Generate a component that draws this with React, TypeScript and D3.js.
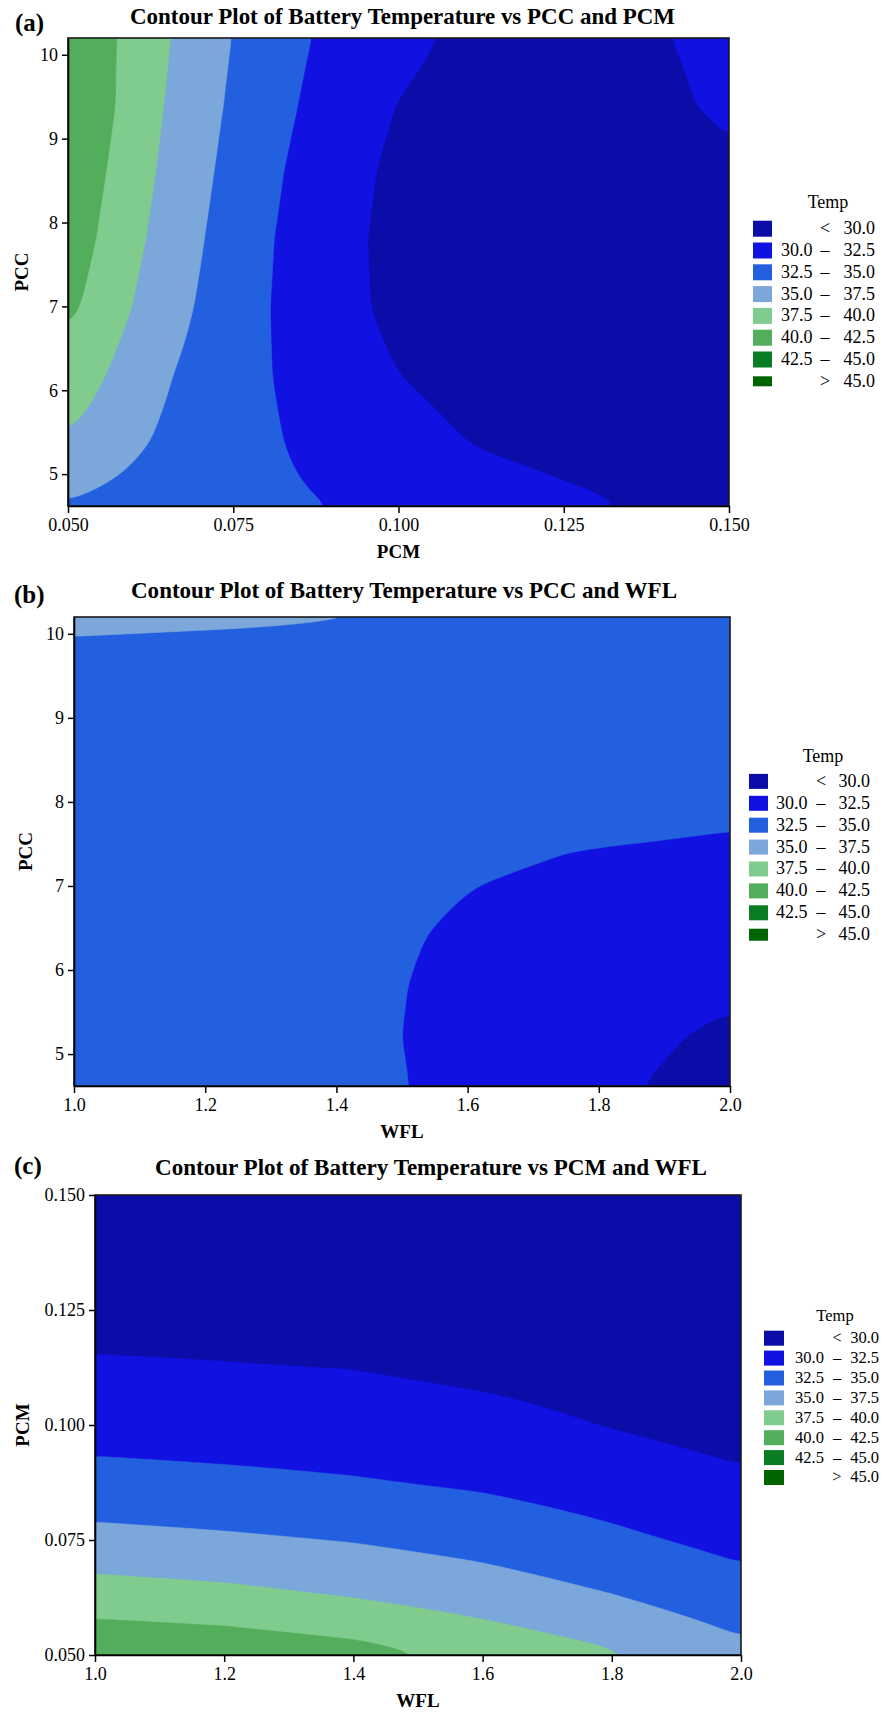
import React, { useEffect, useRef } from "react";
import * as d3 from "d3";

const SERIF = "'Liberation Serif', 'Times New Roman', Times, serif";

// temperature bands shared by all three plots
const tempBreaks = [30, 32.5, 35, 37.5, 40, 42.5, 45];
const bandColors = ["#0c0ca8", "#1111e1", "#2360e0", "#7ba7da", "#80cc8f", "#52ae5a", "#0a7d24", "#006400"];
const legendRows = [
  ["", "<", "30.0"],
  ["30.0", "–", "32.5"],
  ["32.5", "–", "35.0"],
  ["35.0", "–", "37.5"],
  ["37.5", "–", "40.0"],
  ["40.0", "–", "42.5"],
  ["42.5", "–", "45.0"],
  ["", ">", "45.0"],
];

// (a) Temp over PCM (columns) x PCC (rows, bottom -> top)
const pcmA = [0.05, 0.0625, 0.075, 0.0875, 0.1, 0.1125, 0.125, 0.1375, 0.15];
const pccA = [4.62, 5.4, 6.2, 7.0, 7.8, 8.6, 9.4, 10.2];
const tempA = [
  [34.75, 33.85, 33.2, 32.6, 31.9, 31.2, 30.5, 29.75, 29.3],
  [37.3, 34.96, 33.33, 31.97, 30.89, 29.8, 29.2, 29.0, 29.1],
  [39.1, 35.63, 33.34, 31.56, 29.99, 29.0, 28.7, 28.8, 29.2],
  [40.6, 36.59, 33.54, 31.22, 29.38, 28.6, 28.4, 28.6, 29.2],
  [41.4, 37.24, 33.79, 31.18, 29.3, 28.6, 28.4, 28.7, 29.4],
  [41.95, 37.7, 34.18, 31.43, 29.47, 28.7, 28.5, 28.9, 29.7],
  [42.6, 38.05, 34.58, 31.92, 29.9, 29.0, 28.8, 29.55, 30.3],
  [42.4, 38.33, 34.89, 32.35, 30.64, 29.25, 29.2, 29.8, 30.45],
];

// (b) Temp over WFL (columns) x PCC (rows)
const wflB = [1.0, 1.25, 1.5, 1.625, 1.75, 1.875, 2.0];
const pccB = [4.62, 5.2, 5.8, 6.4, 7.0, 7.6, 8.4, 9.2, 9.6, 10.2];
const tempB = [
  [34.0, 33.5, 32.58, 31.7, 30.8, 29.95, 29.3],
  [33.9, 33.45, 32.51, 31.8, 31.0, 30.3, 29.63],
  [33.8, 33.4, 32.55, 31.9, 31.25, 30.75, 30.4],
  [33.7, 33.4, 32.65, 32.15, 31.65, 31.25, 30.9],
  [33.6, 33.4, 32.85, 32.47, 32.15, 31.85, 31.6],
  [33.6, 33.5, 33.3, 33.0, 32.69, 32.6, 32.47],
  [33.7, 33.55, 33.45, 33.3, 33.2, 33.15, 33.1],
  [33.95, 33.8, 33.7, 33.6, 33.55, 33.5, 33.45],
  [34.2, 34.0, 33.9, 33.8, 33.75, 33.7, 33.7],
  [35.5, 35.3, 34.98, 34.75, 34.6, 34.5, 34.4],
];

// (c) Temp over WFL (columns) x PCM (rows)
const wflC = [1.0, 1.2, 1.4, 1.6, 1.8, 2.0];
const pcmC = [0.05, 0.0625, 0.075, 0.0875, 0.1, 0.1125, 0.125, 0.1375, 0.15];
const tempC = [
  [42.2, 41.8, 40.95, 39.3, 37.8, 35.7],
  [38.7, 38.24, 37.44, 36.41, 35.13, 33.53],
  [35.77, 35.37, 34.86, 34.08, 32.97, 31.8],
  [33.3, 33.0, 32.65, 32.16, 31.34, 30.39],
  [31.55, 31.4, 31.28, 30.74, 29.89, 29.1],
  [30.15, 30.05, 29.93, 29.46, 29.0, 28.4],
  [29.5, 29.5, 29.3, 28.9, 28.4, 27.9],
  [29.3, 29.2, 29.0, 28.6, 28.1, 27.7],
  [29.4, 29.2, 29.0, 28.6, 28.1, 27.7],
];

const pcmTicks = [0.05, 0.075, 0.1, 0.125, 0.15];
const pccTicks = [5, 6, 7, 8, 9, 10];
const wflTicks = [1.0, 1.2, 1.4, 1.6, 1.8, 2.0];

const NX = 240;
const NY = 240;

// bilinear fill of the fine grid used by d3.contours (row 0 = top)
function resample(xs: number[], ys: number[], z: number[][]): number[] {
  const out: number[] = new Array(NX * NY);
  const x0 = xs[0], x1 = xs[xs.length - 1];
  const y0 = ys[0], y1 = ys[ys.length - 1];
  for (let j = 0; j < NY; j++) {
    const yv = y1 - ((j + 0.5) / NY) * (y1 - y0);
    const r = Math.min(ys.length - 2, Math.max(0, d3.bisectRight(ys, yv) - 1));
    const ty = (yv - ys[r]) / (ys[r + 1] - ys[r]);
    for (let i = 0; i < NX; i++) {
      const xv = x0 + ((i + 0.5) / NX) * (x1 - x0);
      const c = Math.min(xs.length - 2, Math.max(0, d3.bisectRight(xs, xv) - 1));
      const tx = (xv - xs[c]) / (xs[c + 1] - xs[c]);
      const lo = z[r][c] * (1 - tx) + z[r][c + 1] * tx;
      const hi = z[r + 1][c] * (1 - tx) + z[r + 1][c + 1] * tx;
      out[j * NX + i] = lo * (1 - ty) + hi * ty;
    }
  }
  const blur2 = (d3 as any).blur2;
  if (blur2) blur2({ data: out, width: NX, height: NY }, 3);
  return out;
}

const panels = [
  {
    id: "a", tag: "(a)", tagX: 15, tagY: 31,
    title: "Contour Plot of Battery Temperature vs PCC and PCM",
    titleX: 402.5, titleY: 24, titleLen: 545,
    xLabel: "PCM", yLabel: "PCC", yLabelX: 28,
    xs: pcmA, ys: pccA, temps: tempA,
    xTicks: pcmTicks, yTicks: pccTicks, xFmt: d3.format(".3f"), yFmt: d3.format("d"),
    l: 68, r: 729, t: 38, b: 506,
    lg: { swX: 753, swW: 19, swH: 16, lastH: 10, y0: 228.7, dy: 21.8, numL: 781, dashX: 825, right: 875, fs: 18, tempX: 828, tempY: 208 },
  },
  {
    id: "b", tag: "(b)", tagX: 14, tagY: 603,
    title: "Contour Plot of Battery Temperature vs PCC and WFL",
    titleX: 404, titleY: 598, titleLen: 546,
    xLabel: "WFL", yLabel: "PCC", yLabelX: 32,
    xs: wflB, ys: pccB, temps: tempB,
    xTicks: wflTicks, yTicks: pccTicks, xFmt: d3.format(".1f"), yFmt: d3.format("d"),
    l: 74, r: 730, t: 617, b: 1086,
    lg: { swX: 749, swW: 19, swH: 15, lastH: 12, y0: 781.4, dy: 21.9, numL: 776, dashX: 821, right: 870, fs: 18, tempX: 823, tempY: 762 },
  },
  {
    id: "c", tag: "(c)", tagX: 14, tagY: 1174,
    title: "Contour Plot of Battery Temperature vs PCM and WFL",
    titleX: 431, titleY: 1175, titleLen: 552,
    xLabel: "WFL", yLabel: "PCM", yLabelX: 29,
    xs: wflC, ys: pcmC, temps: tempC,
    xTicks: wflTicks, yTicks: pcmTicks, xFmt: d3.format(".1f"), yFmt: d3.format(".3f"),
    l: 95, r: 741, t: 1195, b: 1655,
    lg: { swX: 764, swW: 20, swH: 15, lastH: 15, y0: 1338.2, dy: 19.9, numL: 795, dashX: 837, right: 879, fs: 16.5, tempX: 835, tempY: 1321 },
  },
];

const App: React.FC = () => {
  const svgRef = useRef<SVGSVGElement>(null);

  useEffect(() => {
    if (!svgRef.current) return;
    const svg = d3.select(svgRef.current);
    svg.selectAll("*").remove();

    panels.forEach(p => {
      const g = svg.append("g").attr("font-family", SERIF);
      const last = (a: number[]) => a[a.length - 1];

      const x = d3.scaleLinear().domain([p.xs[0], last(p.xs)]).range([p.l, p.r]);
      const y = d3.scaleLinear().domain([p.ys[0], last(p.ys)]).range([p.b, p.t]);

      g.append("clipPath")
        .attr("id", "clip-" + p.id)
        .append("rect")
        .attr("x", p.l).attr("y", p.t)
        .attr("width", p.r - p.l).attr("height", p.b - p.t);

      const plot = g.append("g").attr("clip-path", `url(#clip-${p.id})`);

      // lowest band as background
      plot.append("rect")
        .attr("x", p.l).attr("y", p.t)
        .attr("width", p.r - p.l).attr("height", p.b - p.t)
        .attr("fill", bandColors[0]);

      const grid = resample(p.xs, p.ys, p.temps);
      const bands = d3.contours().size([NX, NY]).thresholds(tempBreaks)(grid);

      const gx = d3.scaleLinear().domain([0, NX]).range([p.xs[0], last(p.xs)]);
      const gy = d3.scaleLinear().domain([0, NY]).range([last(p.ys), p.ys[0]]);
      const proj = d3.geoTransform({
        point: function (this: any, px: number, py: number) {
          this.stream.point(x(gx(px)), y(gy(py)));
        },
      });
      const path = d3.geoPath(proj);

      plot.selectAll("path.band")
        .data(bands)
        .join("path")
        .attr("class", "band")
        .attr("d", d => path(d as any) || "")
        .attr("fill", (d, i) => bandColors[i + 1])
        .attr("stroke", (d, i) => bandColors[i + 1])
        .attr("stroke-width", 0.6);

      // frame
      g.append("rect")
        .attr("x", p.l).attr("y", p.t)
        .attr("width", p.r - p.l).attr("height", p.b - p.t)
        .attr("fill", "none")
        .attr("stroke", "#1a1a1a")
        .attr("stroke-width", 1.6);

      // axes
      const xAxis = g.append("g")
        .attr("transform", `translate(0,${p.b})`)
        .call(
          d3.axisBottom(x)
            .tickValues(p.xTicks)
            .tickFormat(p.xFmt as any)
            .tickSize(7)
            .tickSizeOuter(0)
            .tickPadding(5)
        );
      const yAxis = g.append("g")
        .attr("transform", `translate(${p.l},0)`)
        .call(
          d3.axisLeft(y)
            .tickValues(p.yTicks)
            .tickFormat(p.yFmt as any)
            .tickSize(6)
            .tickSizeOuter(0)
            .tickPadding(4)
        );
      [xAxis, yAxis].forEach(ax => {
        ax.attr("font-family", SERIF).attr("font-size", 18);
        ax.select(".domain").attr("stroke", "#000").attr("stroke-width", 1.6);
        ax.selectAll(".tick line").attr("stroke", "#000").attr("stroke-width", 1.5);
        ax.selectAll(".tick text")
          .attr("fill", "#000")
          .attr("font-family", SERIF)
          .attr("font-size", 18);
      });

      // title + tag
      g.append("text")
        .attr("x", p.titleX)
        .attr("y", p.titleY)
        .attr("text-anchor", "middle")
        .attr("textLength", p.titleLen)
        .attr("lengthAdjust", "spacingAndGlyphs")
        .attr("font-family", SERIF)
        .attr("font-size", 24)
        .attr("font-weight", "bold")
        .text(p.title);

      g.append("text")
        .attr("x", p.tagX)
        .attr("y", p.tagY)
        .attr("font-family", SERIF)
        .attr("font-size", 25)
        .attr("font-weight", "bold")
        .text(p.tag);

      // axis titles
      g.append("text")
        .attr("x", (p.l + p.r) / 2)
        .attr("y", p.b + 52)
        .attr("text-anchor", "middle")
        .attr("font-family", SERIF)
        .attr("font-size", 19)
        .attr("font-weight", "bold")
        .text(p.xLabel);

      g.append("text")
        .attr("transform", `translate(${p.yLabelX},${(p.t + p.b) / 2}) rotate(-90)`)
        .attr("text-anchor", "middle")
        .attr("font-family", SERIF)
        .attr("font-size", 19)
        .attr("font-weight", "bold")
        .text(p.yLabel);

      // legend
      const lg = p.lg;
      const leg = g.append("g");
      const txt = (xx: number, yy: number, anchor: string, s: string) =>
        leg.append("text")
          .attr("x", xx)
          .attr("y", yy)
          .attr("text-anchor", anchor)
          .attr("font-family", SERIF)
          .attr("font-size", lg.fs)
          .attr("fill", "#000")
          .text(s);

      txt(lg.tempX, lg.tempY, "middle", "Temp");

      legendRows.forEach((row, i) => {
        const cy = lg.y0 + i * lg.dy;
        const h = i === legendRows.length - 1 ? lg.lastH : lg.swH;
        leg.append("rect")
          .attr("x", lg.swX)
          .attr("y", cy - h / 2)
          .attr("width", lg.swW)
          .attr("height", h)
          .attr("fill", bandColors[i]);
        const base = cy + lg.fs * 0.3;
        if (row[0]) txt(lg.numL, base, "start", row[0]);
        txt(lg.dashX, base, "middle", row[1]);
        txt(lg.right, base, "end", row[2]);
      });
    });
  }, []);

  return (
    <svg
      ref={svgRef}
      width={893}
      height={1713}
      style={{ position: "absolute", left: 0, top: 0, background: "#fff", fontFamily: SERIF }}
    />
  );
};

export default App;
